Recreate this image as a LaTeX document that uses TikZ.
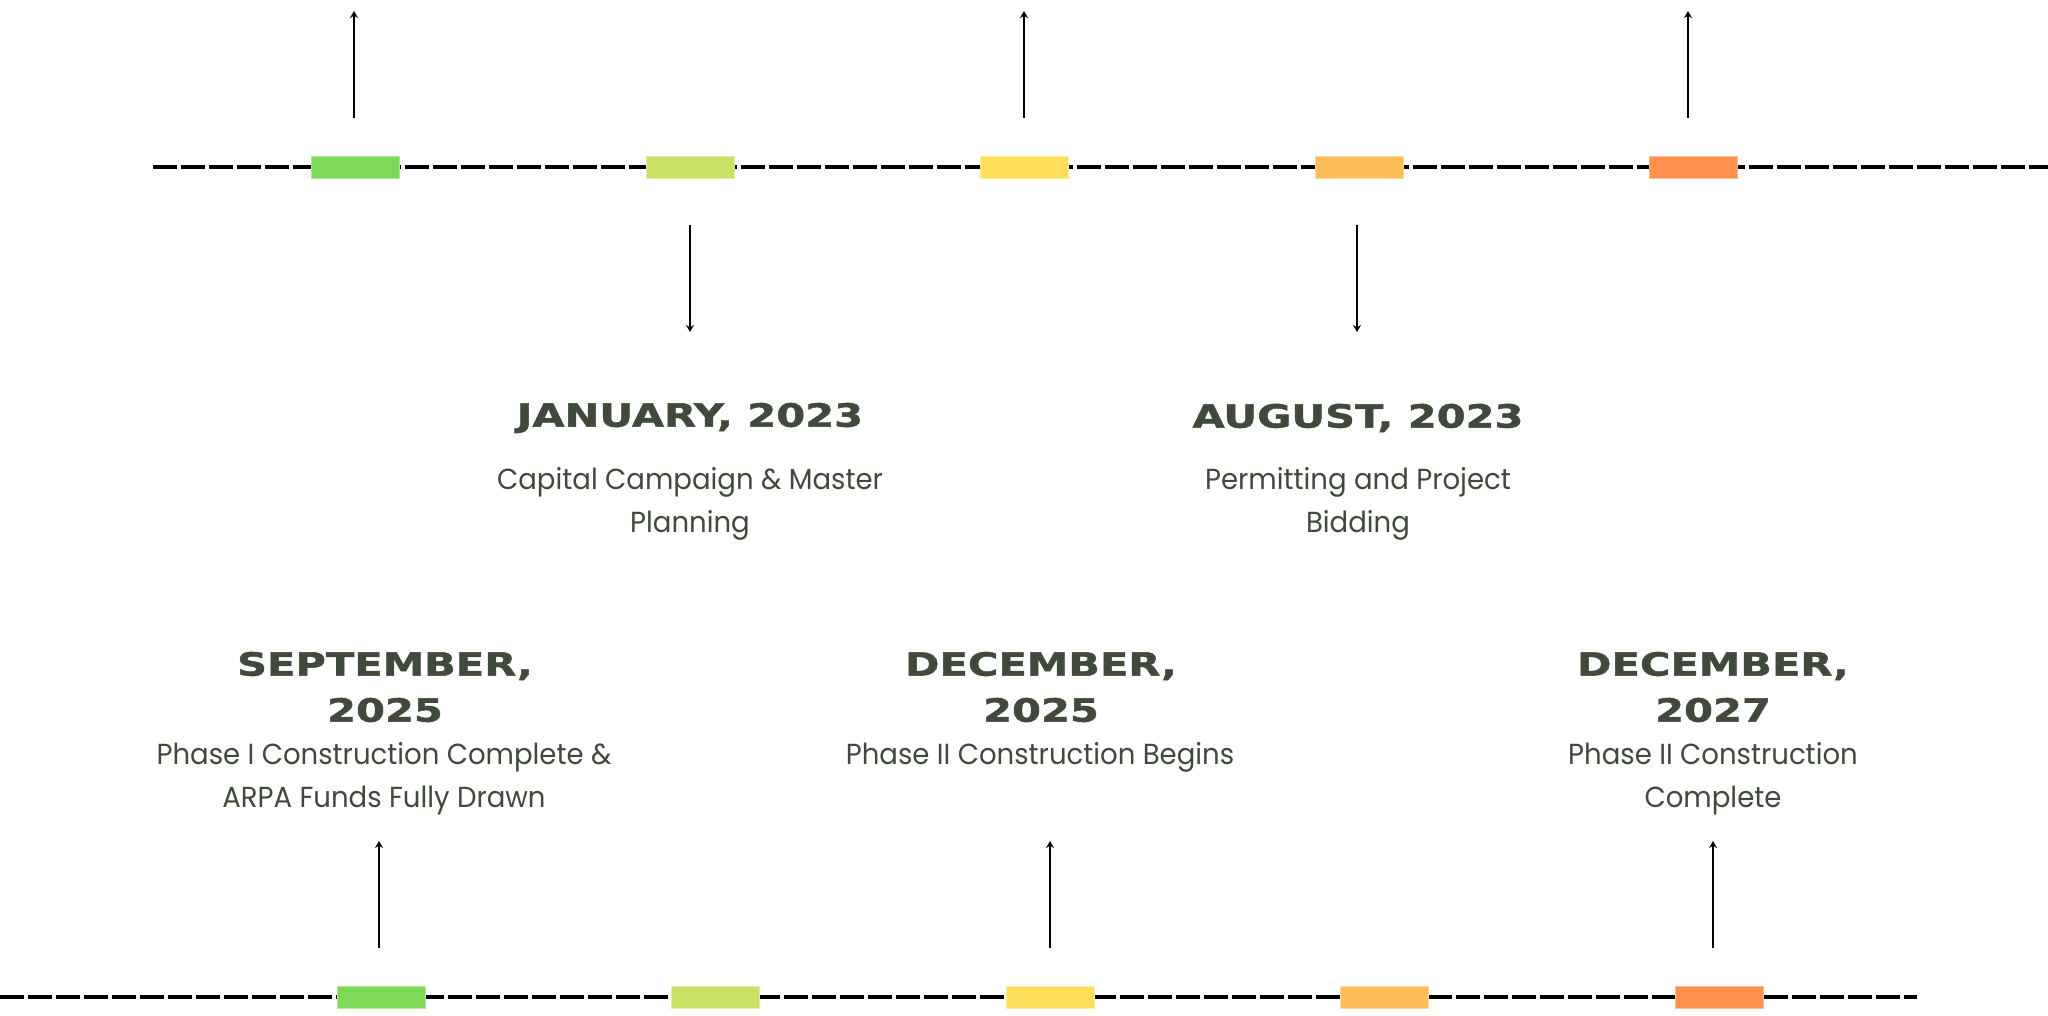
\documentclass[tikz,border=0pt]{standalone}
\usepackage{fontspec}
\setmainfont{Poppins}[FakeStretch=0.95]
\newfontfamily\headfont[FakeStretch=1.3,FakeBold=1.5]{DejaVu Sans Bold}
\usetikzlibrary{arrows.meta}
\definecolor{txt}{HTML}{3F4A3A}
\definecolor{cA}{HTML}{7ED957}
\definecolor{cB}{HTML}{C9E265}
\definecolor{cC}{HTML}{FFDE59}
\definecolor{cD}{HTML}{FFBD59}
\definecolor{cE}{HTML}{FF914D}
\tikzset{
  tl/.style={line width=4pt, dash pattern=on 24pt off 4pt},
  mk/.style={minimum width=88pt, minimum height=22pt, inner sep=0pt, draw=#1!60!white, line width=1pt, fill=#1},
  arr/.style={line width=2pt, -{Stealth[length=7pt,width=8pt]}},
  hd/.style={text=txt, align=center, font=\headfont\fontsize{32}{46}\selectfont},
  bd/.style={text=txt, align=center, font=\fontsize{29}{43}\selectfont},
}
\begin{document}
\begin{tikzpicture}[x=1pt,y=-1pt]
\useasboundingbox (0,0) rectangle (2048,1015);
% top timeline
\coordinate (ts) at (153,167);
\coordinate (te) at (2048,167);
\draw[tl] (ts) -- (te);
\node[mk=cA] (t1) at (355,167) {};
\node[mk=cB] (t2) at (690,167) {};
\node[mk=cC] (t3) at (1024,167) {};
\node[mk=cD] (t4) at (1359,167) {};
\node[mk=cE] (t5) at (1693,167) {};
% bottom timeline
\coordinate (bs) at (0,997);
\coordinate (be) at (1917,997);
\draw[tl] (bs) -- (be);
\node[mk=cA] (b1) at (381,997) {};
\node[mk=cB] (b2) at (715,997) {};
\node[mk=cC] (b3) at (1050,997) {};
\node[mk=cD] (b4) at (1384,997) {};
\node[mk=cE] (b5) at (1719,997) {};
% arrows top
\coordinate (u1s) at (354,118); \coordinate (u1e) at (354,11);
\coordinate (u3s) at (1024,118); \coordinate (u3e) at (1024,11);
\coordinate (u5s) at (1688,118); \coordinate (u5e) at (1688,11);
\draw[arr] (u1s) -- (u1e);
\draw[arr] (u3s) -- (u3e);
\draw[arr] (u5s) -- (u5e);
\coordinate (d2s) at (690,225); \coordinate (d2e) at (690,332);
\coordinate (d4s) at (1357,225); \coordinate (d4e) at (1357,332);
\draw[arr] (d2s) -- (d2e);
\draw[arr] (d4s) -- (d4e);
% arrows bottom
\coordinate (v1s) at (379,948); \coordinate (v1e) at (379,841);
\coordinate (v3s) at (1050,948); \coordinate (v3e) at (1050,841);
\coordinate (v5s) at (1713,948); \coordinate (v5e) at (1713,841);
\draw[arr] (v1s) -- (v1e);
\draw[arr] (v3s) -- (v3e);
\draw[arr] (v5s) -- (v5e);
% texts
\node[hd] (h2) at (690,418) {JANUARY, 2023};
\node[bd] (x2) at (690,504) {Capital Campaign \& Master\\Planning};
\node[hd] (h4) at (1358,418) {AUGUST, 2023};
\node[bd] (x4) at (1358,504) {Permitting and Project\\Bidding};
\node[hd] (h1) at (385,687) {SEPTEMBER,\\2025};
\node[bd] (x1) at (384,779) {Phase I Construction Complete \&\\ARPA Funds Fully Drawn};
\node[hd] (h3) at (1041,687) {DECEMBER,\\2025};
\node[bd] (x3) at (1040,757) {Phase II Construction Begins};
\node[hd] (h5) at (1713,687) {DECEMBER,\\2027};
\node[bd] (x5) at (1713,779) {Phase II Construction\\Complete};
\end{tikzpicture}
\end{document}
